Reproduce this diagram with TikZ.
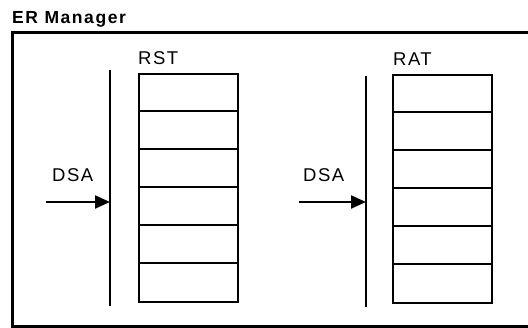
\documentclass[tikz,border=0pt]{standalone}
\usepackage{fontspec}
\setmainfont{Liberation Sans}
\newfontfamily\lblfont[LetterSpace=8]{Liberation Sans}
\newfontfamily\ttlfont[LetterSpace=9]{Liberation Sans}
\usetikzlibrary{arrows.meta}
\tikzset{
  frame/.style={line width=3pt},
  table/.style={draw, line width=2.4pt, inner sep=0pt, anchor=north west},
  rowline/.style={line width=2.2pt},
  bar/.style={line width=2.6pt},
  ptr/.style={line width=2.2pt, -{Triangle[length=15pt,width=13pt]}},
  lbl/.style={inner sep=0pt, anchor=base west, font=\lblfont\fontsize{18.5}{18.5}\selectfont},
  ttl/.style={inner sep=0pt, anchor=base west, font=\ttlfont\bfseries\fontsize{17.5}{17.5}\selectfont}
}
\begin{document}
\begin{tikzpicture}[x=1pt,y=-1pt]
\useasboundingbox (0,0) rectangle (528,328);
\node[ttl] (title) at (12,23.5) {ER Manager};
\draw[frame] (528,33) -- (12,33) -- (12,327) -- (528,327);
% left group
\node[table, minimum width=99pt, minimum height=228pt] (rst) at (138,73) {};
\foreach \i in {1,...,5} \draw[rowline] ([yshift=-\i*38pt]rst.north west) -- ([yshift=-\i*38pt]rst.north east);
\node[lbl] (rstl) at (138,65) {RST};
\coordinate (b1t) at (110,70);
\coordinate (b1b) at (110,306);
\draw[bar] (b1t) -- (b1b);
\node[lbl] (dsa1) at (52,182) {DSA};
\coordinate (a1s) at (46,202);
\coordinate (a1e) at (110,202);
\draw[ptr] (a1s) -- (a1e);
% right group
\node[table, minimum width=99pt, minimum height=228pt] (rat) at (392,74) {};
\foreach \i in {1,...,5} \draw[rowline] ([yshift=-\i*38pt]rat.north west) -- ([yshift=-\i*38pt]rat.north east);
\node[lbl] (ratl) at (393,66) {RAT};
\coordinate (b2t) at (366,76);
\coordinate (b2b) at (366,307);
\draw[bar] (b2t) -- (b2b);
\node[lbl] (dsa2) at (303,182) {DSA};
\coordinate (a2s) at (299,202);
\coordinate (a2e) at (366,202);
\draw[ptr] (a2s) -- (a2e);
\end{tikzpicture}
\end{document}
